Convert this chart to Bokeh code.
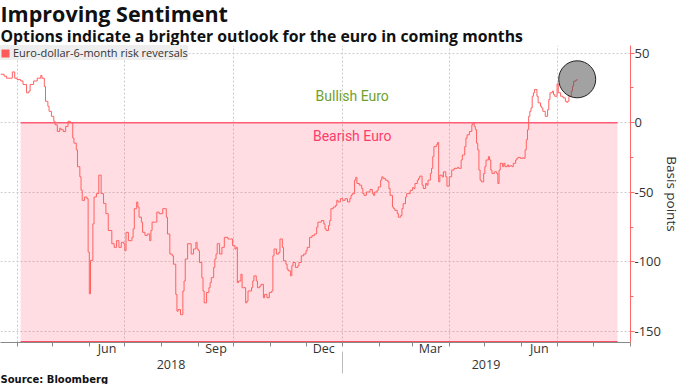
import pandas as pd
from bokeh.plotting import figure
from bokeh.models import (ColumnDataSource, Range1d, FixedTicker, LinearAxis,
                          Legend, LegendItem, Label, Title)
from bokeh.embed import file_html
from bokeh.resources import INLINE

title_text = "Improving Sentiment"
subtitle_text = "Options indicate a brighter outlook for the euro in coming months"
source_text = "Source: Bloomberg"
series_name = "Euro-dollar-6-month risk reversals"
y_axis_title = "Basis points"

dates = [
    "2018-03-18", "2018-03-21", "2018-03-23", "2018-03-26", "2018-03-28", "2018-03-30",
    "2018-04-01", "2018-04-04", "2018-04-06", "2018-04-09", "2018-04-11", "2018-04-12",
    "2018-04-15", "2018-04-18", "2018-04-21", "2018-04-22", "2018-04-24", "2018-04-25",
    "2018-04-27", "2018-04-28", "2018-04-30", "2018-05-02", "2018-05-03", "2018-05-05",
    "2018-05-07", "2018-05-08", "2018-05-10", "2018-05-12", "2018-05-14", "2018-05-16",
    "2018-05-18", "2018-05-19", "2018-05-21", "2018-05-22", "2018-05-24", "2018-05-25",
    "2018-05-26", "2018-05-28", "2018-05-30", "2018-05-31", "2018-06-01", "2018-06-02",
    "2018-06-04", "2018-06-05", "2018-06-07", "2018-06-09", "2018-06-10", "2018-06-11",
    "2018-06-13", "2018-06-15", "2018-06-17", "2018-06-20", "2018-06-21", "2018-06-22",
    "2018-06-24", "2018-06-26", "2018-06-28", "2018-06-30", "2018-07-01", "2018-07-02",
    "2018-07-04", "2018-07-07", "2018-07-08", "2018-07-09", "2018-07-11", "2018-07-12",
    "2018-07-13", "2018-07-15", "2018-07-16", "2018-07-18", "2018-07-20", "2018-07-22",
    "2018-07-23", "2018-07-24", "2018-07-27", "2018-07-28", "2018-07-30", "2018-08-02",
    "2018-08-03", "2018-08-05", "2018-08-06", "2018-08-08", "2018-08-10", "2018-08-11",
    "2018-08-13", "2018-08-14", "2018-08-15", "2018-08-17", "2018-08-19", "2018-08-20",
    "2018-08-21", "2018-08-23", "2018-08-25", "2018-08-26", "2018-08-28", "2018-08-30",
    "2018-08-31", "2018-09-01", "2018-09-02", "2018-09-04", "2018-09-05", "2018-09-06",
    "2018-09-08", "2018-09-10", "2018-09-11", "2018-09-12", "2018-09-14", "2018-09-15",
    "2018-09-16", "2018-09-17", "2018-09-19", "2018-09-21", "2018-09-23", "2018-09-26",
    "2018-09-28", "2018-09-30", "2018-10-02", "2018-10-03", "2018-10-04", "2018-10-05",
    "2018-10-07", "2018-10-08", "2018-10-09", "2018-10-11", "2018-10-12", "2018-10-13",
    "2018-10-16", "2018-10-17", "2018-10-18", "2018-10-20", "2018-10-21", "2018-10-23",
    "2018-10-24", "2018-10-26", "2018-10-27", "2018-10-29", "2018-10-31", "2018-11-02",
    "2018-11-03", "2018-11-04", "2018-11-06", "2018-11-08", "2018-11-09", "2018-11-11",
    "2018-11-12", "2018-11-14", "2018-11-15", "2018-11-16", "2018-11-18", "2018-11-19",
    "2018-11-20", "2018-11-22", "2018-11-24", "2018-11-25", "2018-11-27", "2018-11-29",
    "2018-12-01", "2018-12-02", "2018-12-04", "2018-12-06", "2018-12-08", "2018-12-10",
    "2018-12-11", "2018-12-14", "2018-12-16", "2018-12-17", "2018-12-18", "2018-12-20",
    "2018-12-21", "2018-12-22", "2018-12-24", "2018-12-26", "2018-12-27", "2018-12-28",
    "2018-12-30", "2019-01-01", "2019-01-03", "2019-01-05", "2019-01-07", "2019-01-08",
    "2019-01-09", "2019-01-11", "2019-01-12", "2019-01-13", "2019-01-15", "2019-01-17",
    "2019-01-18", "2019-01-19", "2019-01-21", "2019-01-23", "2019-01-24", "2019-01-26",
    "2019-01-27", "2019-01-28", "2019-01-30", "2019-01-31", "2019-02-02", "2019-02-03",
    "2019-02-04", "2019-02-06", "2019-02-08", "2019-02-09", "2019-02-10", "2019-02-12",
    "2019-02-13", "2019-02-14", "2019-02-16", "2019-02-17", "2019-02-19", "2019-02-20",
    "2019-02-21", "2019-02-23", "2019-02-24", "2019-02-25", "2019-02-27", "2019-03-01",
    "2019-03-02", "2019-03-03", "2019-03-05", "2019-03-06", "2019-03-07", "2019-03-09",
    "2019-03-10", "2019-03-12", "2019-03-13", "2019-03-14", "2019-03-16", "2019-03-17",
    "2019-03-18", "2019-03-19", "2019-03-21", "2019-03-22", "2019-03-23", "2019-03-24",
    "2019-03-26", "2019-03-27", "2019-03-29", "2019-03-30", "2019-04-01", "2019-04-03",
    "2019-04-05", "2019-04-08", "2019-04-09", "2019-04-11", "2019-04-12", "2019-04-14",
    "2019-04-15", "2019-04-16", "2019-04-18", "2019-04-20", "2019-04-21", "2019-04-22",
    "2019-04-23", "2019-04-24", "2019-04-25", "2019-04-26", "2019-04-27", "2019-04-28",
    "2019-04-30", "2019-05-01", "2019-05-02", "2019-05-04", "2019-05-05", "2019-05-06",
    "2019-05-07", "2019-05-09", "2019-05-11", "2019-05-12", "2019-05-13", "2019-05-14",
    "2019-05-16", "2019-05-17", "2019-05-18", "2019-05-20", "2019-05-21", "2019-05-22",
    "2019-05-24", "2019-05-25", "2019-05-27", "2019-05-28", "2019-05-29", "2019-05-31",
    "2019-06-02", "2019-06-03", "2019-06-04", "2019-06-05", "2019-06-06", "2019-06-07",
    "2019-06-08", "2019-06-09", "2019-06-10", "2019-06-11", "2019-06-12", "2019-06-14",
    "2019-06-15", "2019-06-17", "2019-06-18", "2019-06-19", "2019-06-21", "2019-06-23",
    "2019-06-24", "2019-06-25", "2019-06-27", "2019-06-28", "2019-06-29", "2019-07-01",
    "2019-07-02", "2019-07-04", "2019-07-05", "2019-07-06", "2019-07-08", "2019-07-09",
    "2019-07-10", "2019-07-11", "2019-07-13", "2019-07-14", "2019-07-15", "2019-07-17",
    "2019-07-18",
]

values = [
    34.8, 33.5, 32.0, 32.0, 36.5, 32.0,
    31.0, 30.0, 27.5, 21.5, 22.7, 27.5,
    30.0, 32.0, 34.0, 32.0, 26.0, 15.4,
    11.8, 8.2, 4.6, 1.0, -1.5, -6.3,
    -3.9, -5.0, -6.3, -2.7, 1.0, 0.0,
    -11.0, -14.7, -19.5, -31.6, -38.9, -48.5,
    -55.8, -53.4, -54.6, -93.0, -123.0, -99.0,
    -72.7, -53.4, -51.0, -37.7, -37.7, -51.0,
    -58.0, -65.4, -77.5, -87.0, -87.0, -89.6,
    -84.8, -89.6, -86.0, -87.0, -92.0, -78.8,
    -84.8, -82.4, -76.3, -61.8, -57.0, -60.6,
    -67.9, -71.5, -78.8, -81.0, -80.0, -84.8,
    -77.5, -71.5, -71.5, -64.3, -65.4, -61.8,
    -61.8, -67.9, -80.0, -94.4, -95.7, -101.7,
    -123.4, -135.5, -134.3, -138.0, -121.0, -113.8,
    -98.0, -87.0, -87.0, -94.4, -90.8, -86.0,
    -90.8, -92.0, -100.5, -111.4, -121.0, -129.5,
    -122.0, -118.6, -115.0, -111.4, -104.0, -98.0,
    -94.4, -87.0, -94.4, -89.6, -82.4, -83.6,
    -83.6, -88.4, -90.8, -89.6, -115.0, -113.8,
    -108.9, -118.6, -118.6, -129.5, -128.3, -121.0,
    -118.6, -113.8, -110.1, -113.8, -118.6, -117.4,
    -116.2, -125.8, -123.4, -125.8, -122.0, -121.0,
    -95.7, -90.8, -94.4, -93.2, -83.6, -89.6,
    -99.3, -101.7, -105.3, -106.5, -110.1, -102.9,
    -100.5, -104.1, -102.9, -100.5, -95.7, -94.4,
    -92.0, -89.6, -82.4, -81.2, -80.0, -75.1,
    -71.5, -70.3, -72.7, -76.3, -77.5, -73.9,
    -70.3, -61.8, -60.6, -59.4, -55.8, -57.0,
    -54.6, -55.8, -54.6, -57.0, -54.6, -52.2,
    -51.0, -41.3, -39.3, -43.7, -44.9, -47.3,
    -51.0, -52.2, -49.8, -49.8, -48.0, -51.0,
    -52.2, -49.8, -48.6, -46.2, -41.3, -38.9,
    -40.0, -41.3, -42.5, -47.3, -52.2, -60.6,
    -61.8, -63.0, -65.4, -67.9, -66.7, -61.8,
    -58.2, -53.4, -51.0, -51.0, -48.6, -46.6,
    -47.3, -43.7, -41.3, -40.0, -38.4, -44.9,
    -47.3, -43.7, -44.9, -41.3, -36.5, -32.8,
    -24.4, -17.2, -15.9, -14.3, -42.5, -37.7,
    -39.0, -35.3, -38.9, -45.6, -38.9, -34.0,
    -32.8, -32.1, -32.8, -26.8, -23.2, -17.2,
    -11.1, -8.7, -6.3, -1.4, -0.2, -2.7,
    -5.0, -14.7, -19.5, -34.0, -41.3, -42.5,
    -36.5, -31.6, -26.8, -24.4, -26.8, -34.0,
    -36.5, -35.3, -36.5, -43.7, -34.0, -29.2,
    -31.6, -29.2, -31.6, -30.4, -31.6, -31.0,
    -31.6, -29.2, -26.8, -25.6, -24.9, -25.6,
    -25.2, -25.6, -19.5, -12.3, -5.0, 4.6,
    8.2, 10.6, 19.0, 21.5, 23.9, 19.0,
    14.3, 11.8, 10.6, 8.2, 4.6, 9.4,
    16.7, 21.5, 22.7, 20.3, 19.0, 28.0,
    21.5, 19.0, 19.0, 17.9, 15.4, 14.7,
    15.4, 19.0, 22.7, 26.3, 29.9, 30.7,
    31.2,
]

y_ticks = [-150, -100, -50, 0, 50]
y_tick_labels = ["-150", "-100", "-50", "0", "50"]
y_minor_ticks = [-125, -75, -25, 25]
month_label_dates = ["2018-06-16", "2018-09-16", "2018-12-16", "2019-03-16", "2019-06-16"]
month_labels = ["Jun", "Sep", "Dec", "Mar", "Jun"]
year_label_dates = ["2018-08-09", "2019-05-02"]
year_labels = ["2018", "2019"]
year_break = "2019-01-01"
x_start, x_end = "2018-03-18", "2019-09-01"
y_min, y_max = -158, 55.5
bear_start, bear_end = "2018-04-04", "2019-08-21"
zone_labels = ["Bullish Euro", "Bearish Euro"]
zone_label_date = "2019-01-09"
zone_label_values = [19.5, -9.5]
zone_colors = ["#6fa12b", "#ff3b6b"]

FONT = "Open Sans"
LFONT = "Roboto"


def ms(d):
    return pd.Timestamp(d).value / 1e6


month_starts = [ms(d) for d in pd.date_range("2018-04-01", x_end, freq="MS")]
quarter_starts = [ms(d) for d in pd.date_range("2018-04-01", x_end, freq="QS")]

src = ColumnDataSource(data=dict(date=pd.to_datetime(dates), value=values))

p = figure(width=683, height=384, x_axis_type="datetime", y_axis_location="right",
           x_range=Range1d(ms(x_start), ms(x_end)), y_range=Range1d(y_min, y_max),
           output_backend="svg", toolbar_location=None, title_location=None,
           min_border_left=0, min_border_right=0, min_border_top=0, min_border_bottom=0)
p.outline_line_color = None
p.background_fill_color = "white"
p.border_fill_color = "white"

# titles (first added is closest to the plot)
p.add_layout(Title(text=subtitle_text, text_font=FONT, text_font_size="15.8px",
                   text_font_style="bold", text_color="#111111", standoff=-3, offset=0), "above")
p.add_layout(Title(text=title_text, text_font=FONT, text_font_size="21.5px",
                   text_font_style="bold", text_color="#111111", standoff=-7, offset=0), "above")

# grids
p.xgrid.ticker = FixedTicker(ticks=quarter_starts)
p.ygrid.ticker = FixedTicker(ticks=y_ticks)
for g in (p.xgrid, p.ygrid):
    g.grid_line_color = "#cccccc"
    g.grid_line_dash = "2 2"
    g.grid_line_width = 1

# bearish shading
p.quad(left=[ms(bear_start)], right=[ms(bear_end)], top=[0], bottom=[y_min],
       fill_color="#ff3355", fill_alpha=0.17, line_color=None)
p.segment(x0=[ms(bear_start)], x1=[ms(bear_end)], y0=[0], y1=[0],
          line_color="#ff5c77", line_width=1.5)
p.segment(x0=[ms(bear_start)], x1=[ms(bear_end)], y0=[y_min], y1=[y_min],
          line_color="#ff4d66", line_width=3)

# series
p.step(x="date", y="value", source=src, mode="after", line_color="#ff6161", line_width=1)

# highlight circle at the latest reading
p.scatter(x=[pd.Timestamp(dates[-1])], y=[values[-1]], size=37, marker="circle",
          fill_color="#555555", fill_alpha=0.55, line_color="#222222", line_width=1)

# zone labels
for txt, val, col in zip(zone_labels, zone_label_values, zone_colors):
    p.add_layout(Label(x=ms(zone_label_date), y=val, text=txt, text_align="center",
                       text_baseline="middle", text_color=col, text_font=LFONT,
                       text_font_size="14px"))

# legend with a square swatch (hidden renderer, only its swatch is drawn)
swatch = p.quad(left=[ms(bear_start)], right=[ms(bear_end)], top=[0], bottom=[y_min],
                fill_color="#ff5a5a", line_color=None, visible=False)
legend = Legend(items=[LegendItem(label=series_name, renderers=[swatch])],
                location="top_left", margin=0, padding=5, spacing=0,
                glyph_width=10, glyph_height=10, label_standoff=3, label_height=14,
                label_text_font=FONT, label_text_font_size="11px", label_text_color="#333333",
                background_fill_color="#eeeeee", background_fill_alpha=1,
                border_line_color=None)
p.add_layout(legend)

# right y axis
yax = p.yaxis[0]
yax.ticker = FixedTicker(ticks=y_ticks, minor_ticks=y_minor_ticks)
yax.major_label_overrides = dict(zip(y_ticks, y_tick_labels))
yax.axis_line_color = "#ff6666"
yax.major_tick_line_color = "#ff6666"
yax.minor_tick_line_color = "#ff6666"
yax.major_tick_in = 0
yax.major_tick_out = 4
yax.minor_tick_in = 0
yax.minor_tick_out = 3
yax.major_label_standoff = 0
yax.major_label_text_font = FONT
yax.major_label_text_font_size = "13px"
yax.major_label_text_color = "#333333"
yax.axis_label = y_axis_title
yax.axis_label_text_font = FONT
yax.axis_label_text_font_style = "normal"
yax.axis_label_text_font_size = "13.5px"
yax.axis_label_text_color = "#333333"
yax.axis_label_standoff = -1

# month axis
xa = p.xaxis[0]
xa.ticker = FixedTicker(ticks=[ms(d) for d in month_label_dates], minor_ticks=month_starts)
xa.major_label_overrides = {ms(d): lab for d, lab in zip(month_label_dates, month_labels)}
xa.major_tick_line_color = None
xa.major_tick_in = 0
xa.major_tick_out = 0
xa.minor_tick_line_color = "#888888"
xa.minor_tick_in = 0
xa.minor_tick_out = 4
xa.axis_line_color = "#888888"
xa.major_label_standoff = -7
xa.major_label_text_font = FONT
xa.major_label_text_font_size = "12.5px"
xa.major_label_text_color = "#333333"

# year axis
ya = LinearAxis(ticker=FixedTicker(ticks=[ms(d) for d in year_label_dates],
                                   minor_ticks=[ms(year_break)]))
ya.major_label_overrides = {ms(d): lab for d, lab in zip(year_label_dates, year_labels)}
ya.axis_line_color = None
ya.major_tick_line_color = None
ya.major_tick_in = 0
ya.major_tick_out = 0
ya.minor_tick_line_color = "#bbbbbb"
ya.minor_tick_in = 8
ya.minor_tick_out = 14
ya.major_label_standoff = -14
ya.major_label_text_font = FONT
ya.major_label_text_font_size = "12.5px"
ya.major_label_text_color = "#333333"
p.add_layout(ya, "below")

p.add_layout(Title(text=source_text, text_font="DejaVu Sans", text_font_size="10px",
                   text_font_style="bold", text_color="#111111", standoff=0, offset=0,
                   align="left"), "below")

open("out.html", "w").write(file_html(p, INLINE))
